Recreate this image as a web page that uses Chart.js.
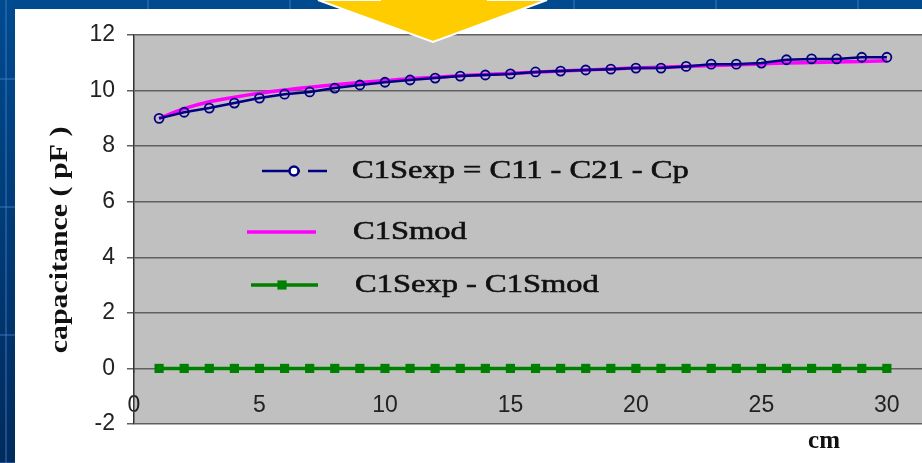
<!DOCTYPE html>
<html>
<head>
<meta charset="utf-8">
<title>C1S capacitance</title>
<script src="https://cdn.jsdelivr.net/npm/chart.js@4.4.1/dist/chart.umd.min.js"></script>
<style>
  html, body { margin: 0; padding: 0; }
  body {
    width: 922px; height: 463px; overflow: hidden; position: relative;
    background: linear-gradient(to bottom, #004a90, #002b5c);
  }
  #grid {
    position: absolute; left: 0; top: 0; width: 922px; height: 463px;
    background-image:
      linear-gradient(90deg, rgba(70, 130, 205, 0.4) 2px, transparent 2px),
      linear-gradient(180deg, rgba(70, 130, 205, 0.4) 2px, transparent 2px);
    background-size: 142px 100%, 100% 128px;
    background-position: 5px 0, 0 78px;
  }
  #panel { position: absolute; left: 15px; top: 9px; right: 0; bottom: 0; background: #fff; }
  #chart { position: absolute; left: 0; top: 0; }
  #arrow { position: absolute; left: 0; top: 0; pointer-events: none; }
</style>
</head>
<body>
<div id="grid"></div>
<div id="panel"></div>
<canvas id="chart" width="922" height="463"></canvas>
<svg id="arrow" width="922" height="463">
  <polygon points="380,-20 380,0 318,0 433,42 547,0 488,0 488,-20" fill="#ffcc00" stroke="#fff" stroke-width="2"/>
</svg>
<script>
//? Data
const cm = [1, 2, 3, 4, 5, 6, 7, 8, 9, 10, 11, 12, 13, 14, 15,
  16, 17, 18, 19, 20, 21, 22, 23, 24, 25, 26, 27, 28, 29, 30];

const c1sExp = [9.0, 9.22, 9.37, 9.55, 9.73, 9.87, 9.95, 10.09, 10.2, 10.3,
  10.38, 10.45, 10.52, 10.56, 10.6, 10.67, 10.7, 10.74, 10.77, 10.81,
  10.81, 10.87, 10.95, 10.95, 10.99, 11.11, 11.14, 11.14, 11.2, 11.2];

const c1sMod = [9.0, 9.35, 9.6, 9.76, 9.9, 10.02, 10.12, 10.21, 10.29, 10.36,
  10.43, 10.48, 10.53, 10.58, 10.62, 10.66, 10.7, 10.74, 10.78, 10.81,
  10.84, 10.87, 10.9, 10.93, 10.96, 10.99, 11.01, 11.03, 11.05, 11.07];

const c1sDiff = [0, 0, 0, 0, 0, 0, 0, 0, 0, 0, 0, 0, 0, 0, 0,
  0, 0, 0, 0, 0, 0, 0, 0, 0, 0, 0, 0, 0, 0, 0];

const seriesNames = ['C1Sexp = C11 - C21 - Cp', 'C1Smod', 'C1Sexp - C1Smod'];
const xTicks = [0, 5, 10, 15, 20, 25, 30];
const yTicks = [-2, 0, 2, 4, 6, 8, 10, 12];
const xTitle = 'cm';
const yTitle = 'capacitance ( pF )';

const toPoints = ys => cm.map((x, i) => ({ x: x, y: ys[i] }));

//* Plugins
// gray plot area like the excel chart
const plotBg = {
  id: 'plotBg',
  beforeDraw(chart) {
    const { ctx, chartArea: a } = chart;
    ctx.save();
    ctx.fillStyle = '#c0c0c0';
    ctx.fillRect(a.left, a.top, a.right - a.left, a.bottom - a.top);
    ctx.restore();
  }
};

// legend sits inside the plot, drawn from the dataset styles
const innerLegend = {
  id: 'innerLegend',
  afterDraw(chart) {
    const ctx = chart.ctx;
    const ds = chart.data.datasets;
    const rows = [
      { y: 171, segs: [[262, 300], [308, 327]], mark: 294, tx: 352 },
      { y: 232, segs: [[247, 316]], mark: null, tx: 353 },
      { y: 285, segs: [[251, 318]], mark: 282, tx: 355 },
    ];
    ctx.save();
    rows.forEach((r, i) => {
      const d = ds[i];
      ctx.strokeStyle = d.borderColor;
      ctx.lineWidth = d.borderWidth;
      r.segs.forEach(s => {
        ctx.beginPath();
        ctx.moveTo(s[0], r.y);
        ctx.lineTo(s[1], r.y);
        ctx.stroke();
      });
      if (r.mark !== null) {
        ctx.fillStyle = i === 0 ? '#ffffff' : d.pointBackgroundColor;
        ctx.strokeStyle = d.pointBorderColor;
        Chart.helpers.drawPoint(ctx, {
          pointStyle: d.pointStyle, radius: d.pointRadius,
          borderWidth: d.pointBorderWidth, rotation: 0
        }, r.mark, r.y);
      }
      ctx.save();
      ctx.translate(r.tx, r.y);
      ctx.scale(1.25, 1);
      ctx.fillStyle = '#111';
      ctx.strokeStyle = '#111';
      ctx.lineWidth = 0.6;
      ctx.font = '26px "Liberation Serif", "Times New Roman", serif';
      ctx.textBaseline = 'middle';
      ctx.fillText(d.label, 0, 0);
      ctx.strokeText(d.label, 0, 0);
      ctx.restore();
    });
    ctx.restore();
  }
};

// axis titles (excel put them off-centre)
const axisTitles = {
  id: 'axisTitles',
  afterDraw(chart) {
    const ctx = chart.ctx;
    ctx.save();
    ctx.fillStyle = '#111';
    ctx.textAlign = 'center';
    ctx.textBaseline = 'middle';
    ctx.font = 'bold 25px "Liberation Serif", "Times New Roman", serif';
    ctx.fillText(xTitle, 824, 442);
    ctx.translate(60, 240);
    ctx.rotate(-Math.PI / 2);
    ctx.scale(1.15, 1);
    ctx.font = 'bold 26px "Liberation Serif", "Times New Roman", serif';
    ctx.fillText(yTitle, 0, 0);
    ctx.restore();
  }
};

//* Chart
const tickFont = { family: '"Liberation Sans", Arial, sans-serif', size: 23 };

new Chart(document.getElementById('chart'), {
  type: 'line',
  data: {
    datasets: [
      {
        label: seriesNames[0],
        data: toPoints(c1sExp),
        borderColor: '#000080',
        borderWidth: 2.5,
        pointStyle: 'circle',
        pointRadius: 4.5,
        pointBorderWidth: 1.8,
        pointBorderColor: '#000080',
        pointBackgroundColor: 'rgba(255,255,255,0)',
        tension: 0,
      },
      {
        label: seriesNames[1],
        data: toPoints(c1sMod),
        borderColor: '#ff00ff',
        borderWidth: 3.5,
        pointRadius: 0,
        cubicInterpolationMode: 'monotone',
      },
      {
        label: seriesNames[2],
        data: toPoints(c1sDiff),
        borderColor: '#008000',
        borderWidth: 3.5,
        pointStyle: 'rect',
        pointRadius: 6.5,
        pointBorderWidth: 0,
        pointBorderColor: '#008000',
        pointBackgroundColor: '#008000',
      },
    ],
  },
  options: {
    responsive: false,
    animation: false,
    devicePixelRatio: 1,
    layout: { autoPadding: false, padding: { top: 35, bottom: 39, left: 0, right: 0 } },
    plugins: { legend: { display: false }, tooltip: { enabled: false } },
    scales: {
      x: {
        type: 'linear',
        position: { y: 0 },
        min: 0,
        max: 31.4,
        afterBuildTicks: s => { s.ticks = xTicks.map(v => ({ value: v })); },
        grid: { drawOnChartArea: false, drawTicks: true, tickLength: 5, color: '#555', lineWidth: 1.5 },
        border: { display: false },
        ticks: { font: tickFont, color: '#222', padding: 18, maxRotation: 0 },
      },
      y: {
        type: 'linear',
        min: -2,
        max: 12,
        afterBuildTicks: s => { s.ticks = yTicks.map(v => ({ value: v })); },
        afterFit: s => { s.width = 134; },
        grid: { color: '#606060', lineWidth: 1.5, tickLength: 7 },
        border: { display: true, color: '#333', width: 1.5 },
        ticks: { font: tickFont, color: '#222', padding: 12 },
      },
    },
  },
  plugins: [plotBg, innerLegend, axisTitles],
});
</script>
</body>
</html>
